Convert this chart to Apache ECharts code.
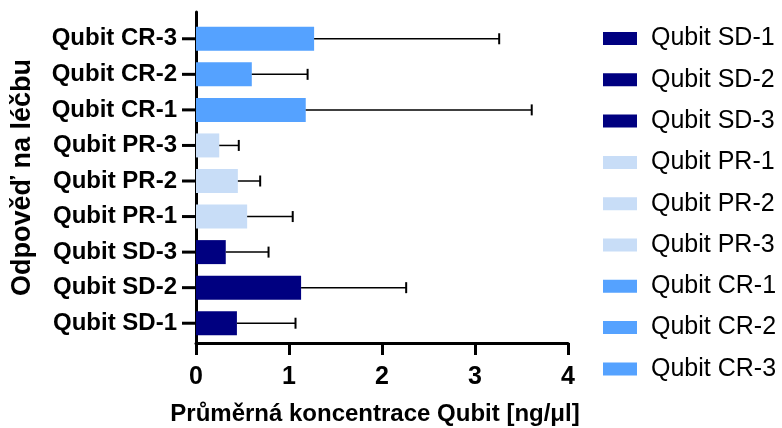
<!DOCTYPE html>
<html>
<head>
<meta charset="utf-8">
<script src="https://cdn.jsdelivr.net/npm/echarts@6/dist/echarts.min.js"></script>
<style>
  html, body { margin: 0; padding: 0; background: #fff; }
  #chart { width: 782px; height: 428px; }
</style>
</head>
<body>
<div id="chart"></div>
<script>
// kategorie odzdola nahoru
const categories = ['Qubit SD-1', 'Qubit SD-2', 'Qubit SD-3', 'Qubit PR-1', 'Qubit PR-2', 'Qubit PR-3', 'Qubit CR-1', 'Qubit CR-2', 'Qubit CR-3'];
const means = [0.44, 1.13, 0.32, 0.55, 0.45, 0.25, 1.18, 0.60, 1.27];
const errTops = [1.07, 2.26, 0.78, 1.04, 0.69, 0.46, 3.61, 1.20, 3.26];
const colors = ['#000080', '#000080', '#000080', '#c8ddf7', '#c8ddf7', '#c8ddf7', '#55a2ff', '#55a2ff', '#55a2ff'];
const xTicks = [0, 1, 2, 3, 4];

const font = 'Liberation Sans, Arial, sans-serif';

let myChart = echarts.init(document.getElementById('chart'));

let barSeries = categories.map(function (name, i) {
    return {
        name: name,
        type: 'bar',
        xAxisIndex: 0,
        yAxisIndex: 0,
        barWidth: 24,
        barGap: '-100%',
        itemStyle: { color: colors[i] },
        data: categories.map(function (c, j) { return j === i ? means[i] : '-'; }),
        z: 2
    };
});

// chybove usecky + znacky na ose y
let errSeries = {
    type: 'custom',
    xAxisIndex: 0,
    yAxisIndex: 0,
    z: 3,
    clip: false,
    data: categories.map(function (c, i) { return [means[i], errTops[i], i]; }),
    encode: { x: [0, 1], y: 2 },
    renderItem: function (params, api) {
        let p0 = api.coord([api.value(0), api.value(2)]);
        let p1 = api.coord([api.value(1), api.value(2)]);
        let a = api.coord([0, api.value(2)]);
        return {
            type: 'group',
            children: [
                { type: 'line', shape: { x1: p0[0], y1: p0[1], x2: p1[0], y2: p1[1] }, style: { stroke: '#000', lineWidth: 1.5 } },
                { type: 'line', shape: { x1: p1[0], y1: p1[1] - 5.5, x2: p1[0], y2: p1[1] + 5.5 }, style: { stroke: '#000', lineWidth: 2 } },
                { type: 'line', shape: { x1: a[0] - 14, y1: a[1], x2: a[0], y2: a[1] }, style: { stroke: '#000', lineWidth: 3 } }
            ]
        };
    }
};

let option = {
    animation: false,
    legend: {
        data: categories,
        orient: 'vertical',
        left: 598,
        top: 21,
        icon: 'rect',
        itemWidth: 34,
        itemHeight: 13,
        itemGap: 16.3,
        textStyle: {
            fontFamily: font,
            fontSize: 25,
            color: '#000',
            lineHeight: 25,
            padding: [0, 0, 0, 9]
        }
    },
    grid: [
        { left: 196, top: 21, width: 372, height: 320, outerBoundsMode: 'none', containLabel: false },
        { left: 196, top: 12, width: 372, height: 331, outerBoundsMode: 'none', containLabel: false }
    ],
    xAxis: [
        {
            type: 'value',
            gridIndex: 0,
            min: 0,
            max: 4,
            interval: 1,
            offset: 2,
            name: 'Průměrná koncentrace Qubit [ng/μl]',
            nameLocation: 'middle',
            nameGap: 59,
            nameTextStyle: { fontFamily: font, fontSize: 24, fontWeight: 'bold', color: '#000', padding: [0, 14, 0, 0] },
            axisLine: { show: true, lineStyle: { color: '#000', width: 3 } },
            axisTick: { show: true, length: 12, lineStyle: { color: '#000', width: 3 } },
            axisLabel: {
                fontFamily: font, fontSize: 25, fontWeight: 'bold', color: '#000', margin: 22,
                formatter: function (v) { return xTicks.indexOf(v) >= 0 ? String(v) : ''; }
            },
            splitLine: { show: false }
        },
        {
            type: 'value',
            gridIndex: 1,
            show: false
        }
    ],
    yAxis: [
        {
            type: 'category',
            gridIndex: 0,
            data: categories,
            axisLine: { show: true, lineStyle: { color: '#000', width: 3 } },
            axisTick: { show: false },
            axisLabel: { fontFamily: font, fontSize: 24, fontWeight: 'bold', color: '#000', margin: 19 },
            splitLine: { show: false }
        },
        {
            type: 'value',
            gridIndex: 1,
            min: 0,
            max: 1,
            name: 'Odpověď na léčbu',
            nameLocation: 'middle',
            nameGap: 160,
            nameRotate: 90,
            nameTextStyle: { fontFamily: font, fontSize: 27, fontWeight: 'bold', color: '#000' },
            axisLine: { show: true, onZero: false, lineStyle: { color: '#000', width: 3 } },
            axisTick: { show: false },
            axisLabel: { show: false },
            splitLine: { show: false }
        }
    ],
    series: barSeries.concat([errSeries])
};
myChart.setOption(option);
</script>
</body>
</html>
